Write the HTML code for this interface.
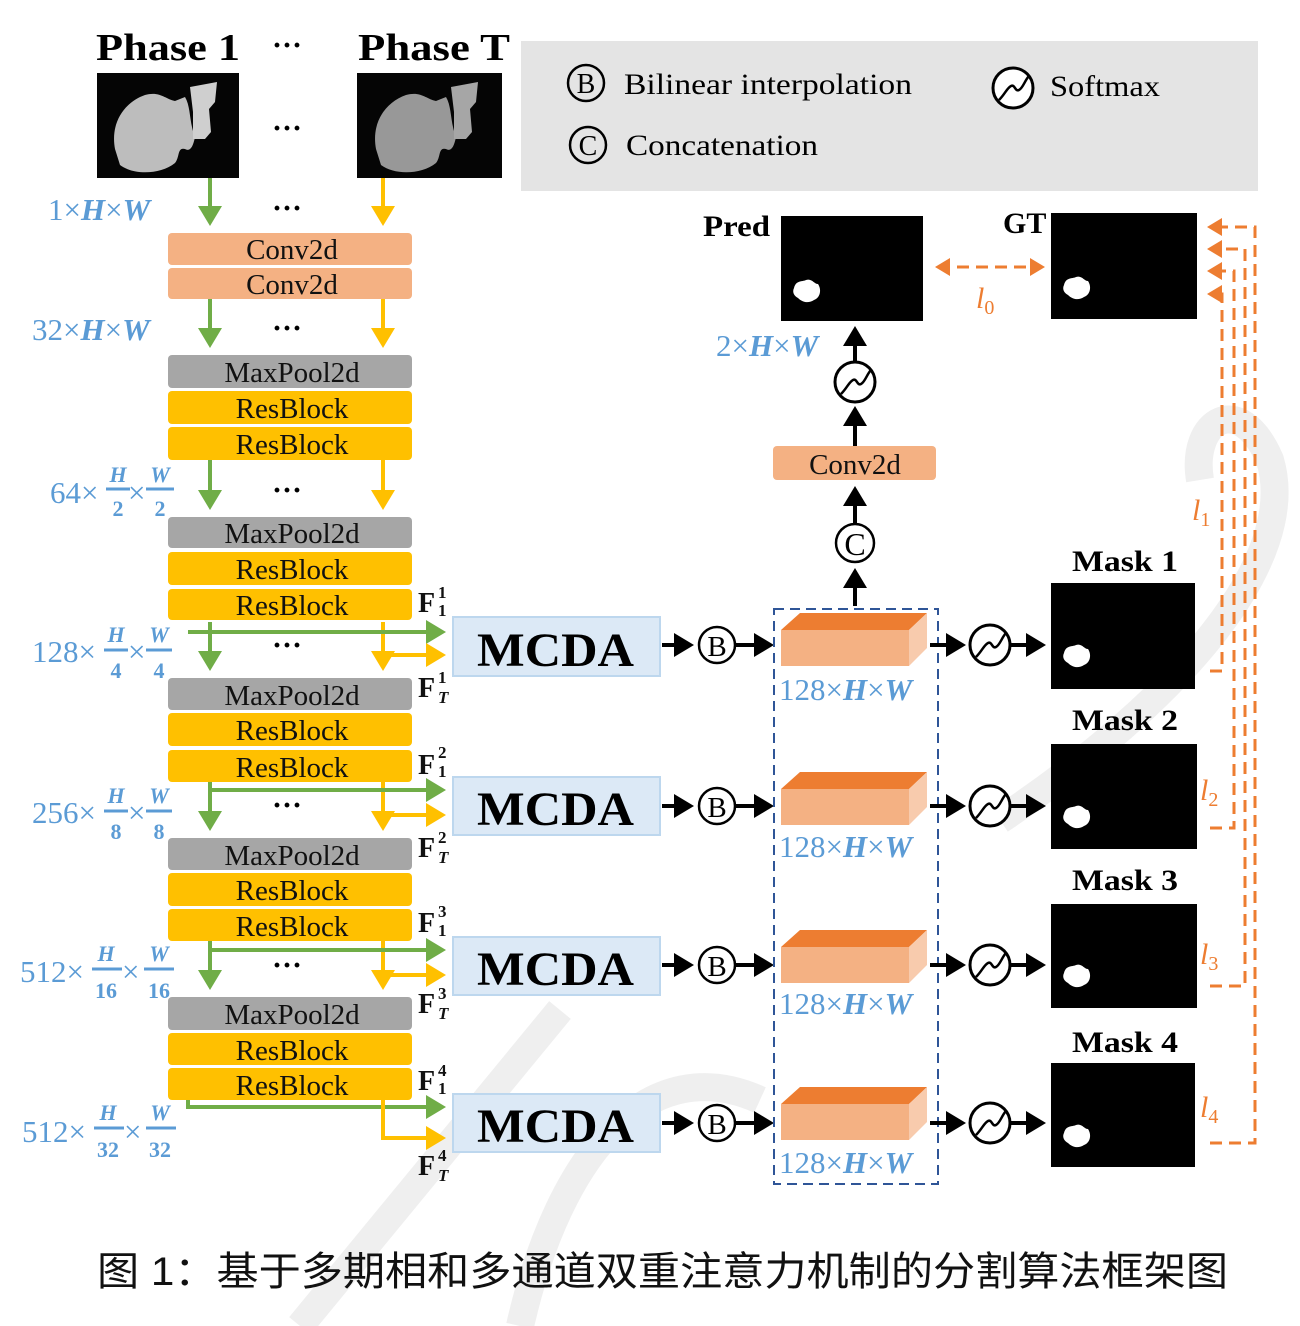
<!DOCTYPE html>
<html><head><meta charset="utf-8"><style>
html,body{margin:0;padding:0;background:#fff;}
svg{display:block;}
.s{font-family:"Liberation Serif",serif;}
.b{font-family:"Liberation Serif",serif;font-weight:bold;}
.blk{font-family:"Liberation Serif",serif;font-size:29px;fill:#111;text-anchor:middle;}
.dim{font-family:"Liberation Serif",serif;fill:#5b9bd5;font-size:31px;}
.it{font-style:italic;font-weight:bold;}
.fr{font-family:"Liberation Serif",serif;fill:#5b9bd5;font-size:22px;font-weight:bold;text-anchor:middle;}
.F{font-family:"Liberation Serif",serif;font-weight:bold;font-size:28px;fill:#111;}
.Fs{font-family:"Liberation Serif",serif;font-weight:bold;font-size:17px;fill:#111;}
.lo{font-family:"Liberation Serif",serif;font-style:italic;fill:#ed7d31;font-size:30px;}
</style></head><body>
<svg width="1300" height="1326" viewBox="0 0 1300 1326" xmlns="http://www.w3.org/2000/svg">
<defs>
<marker id="ag" markerWidth="6" markerHeight="6" refX="4" refY="3" orient="auto" markerUnits="strokeWidth"><path d="M0,0 L5,3 L0,6 z" fill="#70ad47"/></marker>
<marker id="ay" markerWidth="6" markerHeight="6" refX="4" refY="3" orient="auto" markerUnits="strokeWidth"><path d="M0,0 L5,3 L0,6 z" fill="#ffc000"/></marker>
<marker id="ak" markerWidth="6" markerHeight="6" refX="4" refY="3" orient="auto" markerUnits="strokeWidth"><path d="M0,0 L5,3 L0,6 z" fill="#000"/></marker>
<marker id="ao" markerWidth="6" markerHeight="6" refX="4" refY="3" orient="auto-start-reverse" markerUnits="strokeWidth"><path d="M0,0 L5,3 L0,6 z" fill="#ed7d31"/></marker>
<g id="sm"><circle r="20" fill="#fff" stroke="#000" stroke-width="3"/><path d="M-14,12 C-8,6 -6,0 -2,-2 C2,-4 2,4 6,2 C10,0 12,-8 16,-12" fill="none" stroke="#000" stroke-width="2.5"/></g>
<g id="liver1"><path d="M10,72 C5,45 20,25 40,18 C55,14 60,22 70,24 L80,20 C86,30 84,45 90,60 C88,70 85,75 80,72 C72,70 75,80 70,86 C55,98 28,98 15,88 Z" fill="#bdbdbd"/><path d="M85,10 L112,5 L110,25 L104,32 L106,55 L100,62 L88,62 L88,35 Z" fill="#cfcfcf"/></g>
<path id="blob" d="M0,8 C2,0 8,2 12,0 C18,-2 20,4 24,4 C28,10 26,18 20,20 C14,24 8,22 4,18 C0,16 -2,12 0,8 Z" fill="#fff"/>
</defs>

<!-- watermark -->
<g fill="none" stroke="#efefef" stroke-width="28">
<path d="M300,1326 L560,1010"/>
<path d="M520,1326 C560,1150 650,1050 760,1100"/>
<path d="M1000,820 C1180,700 1300,560 1270,460 C1240,390 1190,420 1200,480"/>
</g>

<!-- Phase titles -->
<text x="96" y="60" class="b" font-size="38" textLength="144" lengthAdjust="spacingAndGlyphs">Phase 1</text>
<text x="358" y="60" class="b" font-size="38" textLength="152" lengthAdjust="spacingAndGlyphs">Phase T</text>
<text x="272" y="55" class="b" font-size="30">···</text>
<rect x="97" y="73" width="142" height="105" fill="#050505"/>
<use href="#liver1" x="105" y="77"/>
<rect x="357" y="73" width="145" height="105" fill="#050505"/>
<use href="#liver1" x="366" y="77" opacity="0.8"/>
<text x="272" y="138" class="b" font-size="30">···</text>

<!-- Legend -->
<rect x="521" y="41" width="737" height="150" fill="#e4e4e4"/>
<circle cx="586" cy="83" r="18" fill="none" stroke="#000" stroke-width="2.5"/>
<text x="586" y="93" class="s" font-size="28" text-anchor="middle">B</text>
<text x="624" y="94" class="s" font-size="30" textLength="288" lengthAdjust="spacingAndGlyphs">Bilinear  interpolation</text>
<circle cx="588" cy="145" r="18" fill="none" stroke="#000" stroke-width="2.5"/>
<text x="588" y="155" class="s" font-size="28" text-anchor="middle">C</text>
<text x="626" y="155" class="s" font-size="30" textLength="192" lengthAdjust="spacingAndGlyphs">Concatenation</text>
<use href="#sm" x="1013" y="88"/>
<text x="1050" y="96" class="s" font-size="30" textLength="110" lengthAdjust="spacingAndGlyphs">Softmax</text>

<!-- Left stack -->
<rect x="168" y="233" width="244" height="32" rx="4" fill="#f4b183"/><text x="292" y="259" class="blk">Conv2d</text>
<rect x="168" y="268" width="244" height="31" rx="4" fill="#f4b183"/><text x="292" y="294" class="blk">Conv2d</text>

<g>
<rect x="168" y="355" width="244" height="33" rx="4" fill="#a6a6a6"/><text x="292" y="382" class="blk">MaxPool2d</text>
<rect x="168" y="391" width="244" height="33" rx="4" fill="#ffc000"/><text x="292" y="418" class="blk">ResBlock</text>
<rect x="168" y="427" width="244" height="33" rx="4" fill="#ffc000"/><text x="292" y="454" class="blk">ResBlock</text>

<rect x="168" y="517" width="244" height="31" rx="4" fill="#a6a6a6"/><text x="292" y="543" class="blk">MaxPool2d</text>
<rect x="168" y="552" width="244" height="33" rx="4" fill="#ffc000"/><text x="292" y="579" class="blk">ResBlock</text>
<rect x="168" y="589" width="244" height="31" rx="4" fill="#ffc000"/><text x="292" y="615" class="blk">ResBlock</text>

<rect x="168" y="678" width="244" height="32" rx="4" fill="#a6a6a6"/><text x="292" y="705" class="blk">MaxPool2d</text>
<rect x="168" y="713" width="244" height="33" rx="4" fill="#ffc000"/><text x="292" y="740" class="blk">ResBlock</text>
<rect x="168" y="750" width="244" height="32" rx="4" fill="#ffc000"/><text x="292" y="777" class="blk">ResBlock</text>

<rect x="168" y="838" width="244" height="32" rx="4" fill="#a6a6a6"/><text x="292" y="865" class="blk">MaxPool2d</text>
<rect x="168" y="873" width="244" height="33" rx="4" fill="#ffc000"/><text x="292" y="900" class="blk">ResBlock</text>
<rect x="168" y="909" width="244" height="32" rx="4" fill="#ffc000"/><text x="292" y="936" class="blk">ResBlock</text>

<rect x="168" y="997" width="244" height="33" rx="4" fill="#a6a6a6"/><text x="292" y="1024" class="blk">MaxPool2d</text>
<rect x="168" y="1033" width="244" height="32" rx="4" fill="#ffc000"/><text x="292" y="1060" class="blk">ResBlock</text>
<rect x="168" y="1068" width="244" height="32" rx="4" fill="#ffc000"/><text x="292" y="1095" class="blk">ResBlock</text>
</g>

<!-- dots -->
<g class="b" font-size="30">
<text x="272" y="218">···</text><text x="272" y="338">···</text><text x="272" y="500">···</text>
<text x="272" y="655">···</text><text x="272" y="815">···</text><text x="272" y="975">···</text>
</g>

<!-- vertical arrows -->
<g stroke-width="4" fill="none">
<path d="M210,178 V222" stroke="#70ad47" marker-end="url(#ag)"/>
<path d="M383,178 V222" stroke="#ffc000" marker-end="url(#ay)"/>
<path d="M210,299 V344" stroke="#70ad47" marker-end="url(#ag)"/>
<path d="M383,299 V344" stroke="#ffc000" marker-end="url(#ay)"/>
<path d="M210,460 V506" stroke="#70ad47" marker-end="url(#ag)"/>
<path d="M383,460 V506" stroke="#ffc000" marker-end="url(#ay)"/>
<path d="M210,622 V667" stroke="#70ad47" marker-end="url(#ag)"/>
<path d="M383,622 V667" stroke="#ffc000" marker-end="url(#ay)"/>
<path d="M210,782 V827" stroke="#70ad47" marker-end="url(#ag)"/>
<path d="M383,782 V827" stroke="#ffc000" marker-end="url(#ay)"/>
<path d="M210,941 V986" stroke="#70ad47" marker-end="url(#ag)"/>
<path d="M383,941 V986" stroke="#ffc000" marker-end="url(#ay)"/>
<path d="M188,632 H442" stroke="#70ad47" marker-end="url(#ag)"/>
<path d="M383,655 H442" stroke="#ffc000" marker-end="url(#ay)"/>
<path d="M210,790 H442" stroke="#70ad47" marker-end="url(#ag)"/>
<path d="M383,815 H442" stroke="#ffc000" marker-end="url(#ay)"/>
<path d="M210,950 H442" stroke="#70ad47" marker-end="url(#ag)"/>
<path d="M383,975 H442" stroke="#ffc000" marker-end="url(#ay)"/>
<path d="M188,1100 V1107 H442" stroke="#70ad47" marker-end="url(#ag)"/>
<path d="M383,1100 V1138 H442" stroke="#ffc000" marker-end="url(#ay)"/>
</g>

<!-- dims -->
<text x="48" y="220" class="dim">1×<tspan class="it">H</tspan>×<tspan class="it">W</tspan></text>
<text x="32" y="340" class="dim">32×<tspan class="it">H</tspan>×<tspan class="it">W</tspan></text>
<g>
<text x="50" y="503" class="dim">64×</text>
<text x="118" y="482" class="fr" font-style="italic">H</text><line x1="106" y1="489" x2="130" y2="489" stroke="#5b9bd5" stroke-width="3"/><text x="118" y="516" class="fr">2</text>
<text x="128" y="503" class="dim">×</text>
<text x="160" y="482" class="fr" font-style="italic">W</text><line x1="146" y1="489" x2="174" y2="489" stroke="#5b9bd5" stroke-width="3"/><text x="160" y="516" class="fr">2</text>
</g>
<g>
<text x="32" y="662" class="dim">128×</text>
<text x="116" y="642" class="fr" font-style="italic">H</text><line x1="104" y1="650" x2="128" y2="650" stroke="#5b9bd5" stroke-width="3"/><text x="116" y="678" class="fr">4</text>
<text x="128" y="662" class="dim">×</text>
<text x="159" y="642" class="fr" font-style="italic">W</text><line x1="146" y1="650" x2="172" y2="650" stroke="#5b9bd5" stroke-width="3"/><text x="159" y="678" class="fr">4</text>
</g>
<g>
<text x="32" y="823" class="dim">256×</text>
<text x="116" y="803" class="fr" font-style="italic">H</text><line x1="104" y1="811" x2="128" y2="811" stroke="#5b9bd5" stroke-width="3"/><text x="116" y="839" class="fr">8</text>
<text x="128" y="823" class="dim">×</text>
<text x="159" y="803" class="fr" font-style="italic">W</text><line x1="146" y1="811" x2="172" y2="811" stroke="#5b9bd5" stroke-width="3"/><text x="159" y="839" class="fr">8</text>
</g>
<g>
<text x="20" y="982" class="dim">512×</text>
<text x="106" y="961" class="fr" font-style="italic">H</text><line x1="92" y1="969" x2="122" y2="969" stroke="#5b9bd5" stroke-width="3"/><text x="106" y="998" class="fr">16</text>
<text x="122" y="982" class="dim">×</text>
<text x="159" y="961" class="fr" font-style="italic">W</text><line x1="144" y1="969" x2="174" y2="969" stroke="#5b9bd5" stroke-width="3"/><text x="159" y="998" class="fr">16</text>
</g>
<g>
<text x="22" y="1142" class="dim">512×</text>
<text x="108" y="1120" class="fr" font-style="italic">H</text><line x1="94" y1="1128" x2="124" y2="1128" stroke="#5b9bd5" stroke-width="3"/><text x="108" y="1157" class="fr">32</text>
<text x="124" y="1142" class="dim">×</text>
<text x="160" y="1120" class="fr" font-style="italic">W</text><line x1="146" y1="1128" x2="176" y2="1128" stroke="#5b9bd5" stroke-width="3"/><text x="160" y="1157" class="fr">32</text>
</g>

<!-- F labels -->
<g>
<text x="418" y="612" class="F">F</text><text x="438" y="598" class="Fs">1</text><text x="438" y="616" class="Fs">1</text>
<text x="418" y="697" class="F">F</text><text x="438" y="683" class="Fs">1</text><text x="438" y="703" class="Fs" font-style="italic">T</text>
<text x="418" y="774" class="F">F</text><text x="438" y="758" class="Fs">2</text><text x="438" y="777" class="Fs">1</text>
<text x="418" y="857" class="F">F</text><text x="438" y="843" class="Fs">2</text><text x="438" y="863" class="Fs" font-style="italic">T</text>
<text x="418" y="932" class="F">F</text><text x="438" y="917" class="Fs">3</text><text x="438" y="936" class="Fs">1</text>
<text x="418" y="1013" class="F">F</text><text x="438" y="999" class="Fs">3</text><text x="438" y="1019" class="Fs" font-style="italic">T</text>
<text x="418" y="1090" class="F">F</text><text x="438" y="1076" class="Fs">4</text><text x="438" y="1094" class="Fs">1</text>
<text x="418" y="1175" class="F">F</text><text x="438" y="1161" class="Fs">4</text><text x="438" y="1181" class="Fs" font-style="italic">T</text>
</g>

<!-- MCDA rows -->
<g>
<rect x="453" y="617" width="207" height="59" fill="#dce9f6" stroke="#bdd7ee" stroke-width="2"/>
<text x="477" y="666" class="b" font-size="48" textLength="157" lengthAdjust="spacingAndGlyphs">MCDA</text>
<rect x="453" y="777" width="207" height="58" fill="#dce9f6" stroke="#bdd7ee" stroke-width="2"/>
<text x="477" y="825" class="b" font-size="48" textLength="157" lengthAdjust="spacingAndGlyphs">MCDA</text>
<rect x="453" y="937" width="207" height="58" fill="#dce9f6" stroke="#bdd7ee" stroke-width="2"/>
<text x="477" y="985" class="b" font-size="48" textLength="157" lengthAdjust="spacingAndGlyphs">MCDA</text>
<rect x="453" y="1094" width="207" height="58" fill="#dce9f6" stroke="#bdd7ee" stroke-width="2"/>
<text x="477" y="1142" class="b" font-size="48" textLength="157" lengthAdjust="spacingAndGlyphs">MCDA</text>
</g>

<!-- B circles and arrows -->
<g stroke="#000" stroke-width="4" fill="none">
<path d="M662,645 H690" marker-end="url(#ak)"/><path d="M736,645 H770" marker-end="url(#ak)"/>
<path d="M662,806 H690" marker-end="url(#ak)"/><path d="M736,806 H770" marker-end="url(#ak)"/>
<path d="M662,965 H690" marker-end="url(#ak)"/><path d="M736,965 H770" marker-end="url(#ak)"/>
<path d="M662,1123 H690" marker-end="url(#ak)"/><path d="M736,1123 H770" marker-end="url(#ak)"/>
</g>
<g>
<circle cx="717" cy="645" r="18" fill="#fff" stroke="#000" stroke-width="2.5"/><text x="717" y="656" class="s" font-size="29" text-anchor="middle">B</text>
<circle cx="717" cy="806" r="18" fill="#fff" stroke="#000" stroke-width="2.5"/><text x="717" y="817" class="s" font-size="29" text-anchor="middle">B</text>
<circle cx="717" cy="965" r="18" fill="#fff" stroke="#000" stroke-width="2.5"/><text x="717" y="976" class="s" font-size="29" text-anchor="middle">B</text>
<circle cx="717" cy="1123" r="18" fill="#fff" stroke="#000" stroke-width="2.5"/><text x="717" y="1134" class="s" font-size="29" text-anchor="middle">B</text>
</g>

<!-- dashed box -->
<rect x="774" y="609" width="164" height="575" fill="none" stroke="#2f5597" stroke-width="2" stroke-dasharray="10,6"/>

<!-- cuboids -->
<path d="M781,630 L800,613 L927,613 L909,630 Z" fill="#ed7d31"/><rect x="781" y="630" width="128" height="36" fill="#f4b183"/><path d="M909,630 L927,613 L927,648 L909,666 Z" fill="#f8cbad"/>
<path d="M781,789 L800,772 L927,772 L909,789 Z" fill="#ed7d31"/><rect x="781" y="789" width="128" height="36" fill="#f4b183"/><path d="M909,789 L927,772 L927,807 L909,825 Z" fill="#f8cbad"/>
<path d="M781,947 L800,930 L927,930 L909,947 Z" fill="#ed7d31"/><rect x="781" y="947" width="128" height="36" fill="#f4b183"/><path d="M909,947 L927,930 L927,965 L909,983 Z" fill="#f8cbad"/>
<path d="M781,1104 L800,1087 L927,1087 L909,1104 Z" fill="#ed7d31"/><rect x="781" y="1104" width="128" height="36" fill="#f4b183"/><path d="M909,1104 L927,1087 L927,1122 L909,1140 Z" fill="#f8cbad"/>
<text x="779" y="700" class="dim">128×<tspan class="it">H</tspan>×<tspan class="it">W</tspan></text>
<text x="779" y="857" class="dim">128×<tspan class="it">H</tspan>×<tspan class="it">W</tspan></text>
<text x="779" y="1014" class="dim">128×<tspan class="it">H</tspan>×<tspan class="it">W</tspan></text>
<text x="779" y="1173" class="dim">128×<tspan class="it">H</tspan>×<tspan class="it">W</tspan></text>

<!-- softmax rows -->
<g stroke="#000" stroke-width="4" fill="none">
<path d="M930,645 H962" marker-end="url(#ak)"/><path d="M1010,645 H1042" marker-end="url(#ak)"/>
<path d="M930,806 H962" marker-end="url(#ak)"/><path d="M1010,806 H1042" marker-end="url(#ak)"/>
<path d="M930,965 H962" marker-end="url(#ak)"/><path d="M1010,965 H1042" marker-end="url(#ak)"/>
<path d="M930,1123 H962" marker-end="url(#ak)"/><path d="M1010,1123 H1042" marker-end="url(#ak)"/>
</g>
<use href="#sm" x="990" y="645"/><use href="#sm" x="990" y="806"/><use href="#sm" x="990" y="965"/><use href="#sm" x="990" y="1123"/>

<!-- masks -->
<text x="1072" y="571" class="b" font-size="30" textLength="106" lengthAdjust="spacingAndGlyphs">Mask 1</text>
<rect x="1051" y="583" width="144" height="106" fill="#000"/><use href="#blob" x="1064" y="645"/>
<text x="1072" y="730" class="b" font-size="30" textLength="106" lengthAdjust="spacingAndGlyphs">Mask 2</text>
<rect x="1051" y="744" width="146" height="105" fill="#000"/><use href="#blob" x="1064" y="806"/>
<text x="1072" y="890" class="b" font-size="30" textLength="106" lengthAdjust="spacingAndGlyphs">Mask 3</text>
<rect x="1051" y="904" width="146" height="104" fill="#000"/><use href="#blob" x="1064" y="965"/>
<text x="1072" y="1052" class="b" font-size="30" textLength="106" lengthAdjust="spacingAndGlyphs">Mask 4</text>
<rect x="1051" y="1063" width="144" height="104" fill="#000"/><use href="#blob" x="1064" y="1125"/>

<!-- top path -->
<g stroke="#000" stroke-width="4" fill="none">
<path d="M855,606 V572" marker-end="url(#ak)"/>
<path d="M855,524 V490" marker-end="url(#ak)"/>
<path d="M855,446 V410" marker-end="url(#ak)"/>
<path d="M855,362 V330" marker-end="url(#ak)"/>
</g>
<circle cx="855" cy="543" r="19" fill="#fff" stroke="#000" stroke-width="2.5"/><text x="855" y="555" class="s" font-size="32" text-anchor="middle">C</text>
<rect x="773" y="446" width="163" height="34" rx="4" fill="#f4b183"/><text x="855" y="474" class="blk">Conv2d</text>
<use href="#sm" x="855" y="382"/>
<text x="716" y="356" class="dim">2×<tspan class="it">H</tspan>×<tspan class="it">W</tspan></text>

<text x="703" y="236" class="b" font-size="30" textLength="67" lengthAdjust="spacingAndGlyphs">Pred</text>
<rect x="781" y="216" width="142" height="105" fill="#000"/><use href="#blob" x="794" y="280"/>
<text x="1003" y="233" class="b" font-size="30">GT</text>
<rect x="1051" y="213" width="146" height="106" fill="#000"/><use href="#blob" x="1064" y="277"/>

<!-- l0 -->
<path d="M938,267 H1042" stroke="#ed7d31" stroke-width="3" stroke-dasharray="12,7" fill="none" marker-end="url(#ao)" marker-start="url(#ao)"/>
<text x="976" y="308" class="lo">l<tspan font-size="20" dy="6" font-style="normal">0</tspan></text>

<!-- orange loss loops -->
<g stroke="#ed7d31" stroke-width="3" stroke-dasharray="12,7" fill="none">
<path d="M1210,671 H1222 V294 H1210" marker-end="url(#ao)"/>
<path d="M1210,828 H1234 V271 H1210" marker-end="url(#ao)"/>
<path d="M1210,986 H1245 V249 H1210" marker-end="url(#ao)"/>
<path d="M1210,1143 H1255 V227 H1210" marker-end="url(#ao)"/>
</g>
<text x="1192" y="520" class="lo">l<tspan font-size="20" dy="6" font-style="normal">1</tspan></text>
<text x="1200" y="800" class="lo">l<tspan font-size="20" dy="6" font-style="normal">2</tspan></text>
<text x="1200" y="964" class="lo">l<tspan font-size="20" dy="6" font-style="normal">3</tspan></text>
<text x="1200" y="1117" class="lo">l<tspan font-size="20" dy="6" font-style="normal">4</tspan></text>

<!-- caption -->
<text x="97" y="1285" font-family="'Liberation Sans','Noto Sans CJK SC',sans-serif" font-size="40" fill="#111" textLength="1131" lengthAdjust="spacingAndGlyphs">图 1：基于多期相和多通道双重注意力机制的分割算法框架图</text>
</svg>
</body></html>
